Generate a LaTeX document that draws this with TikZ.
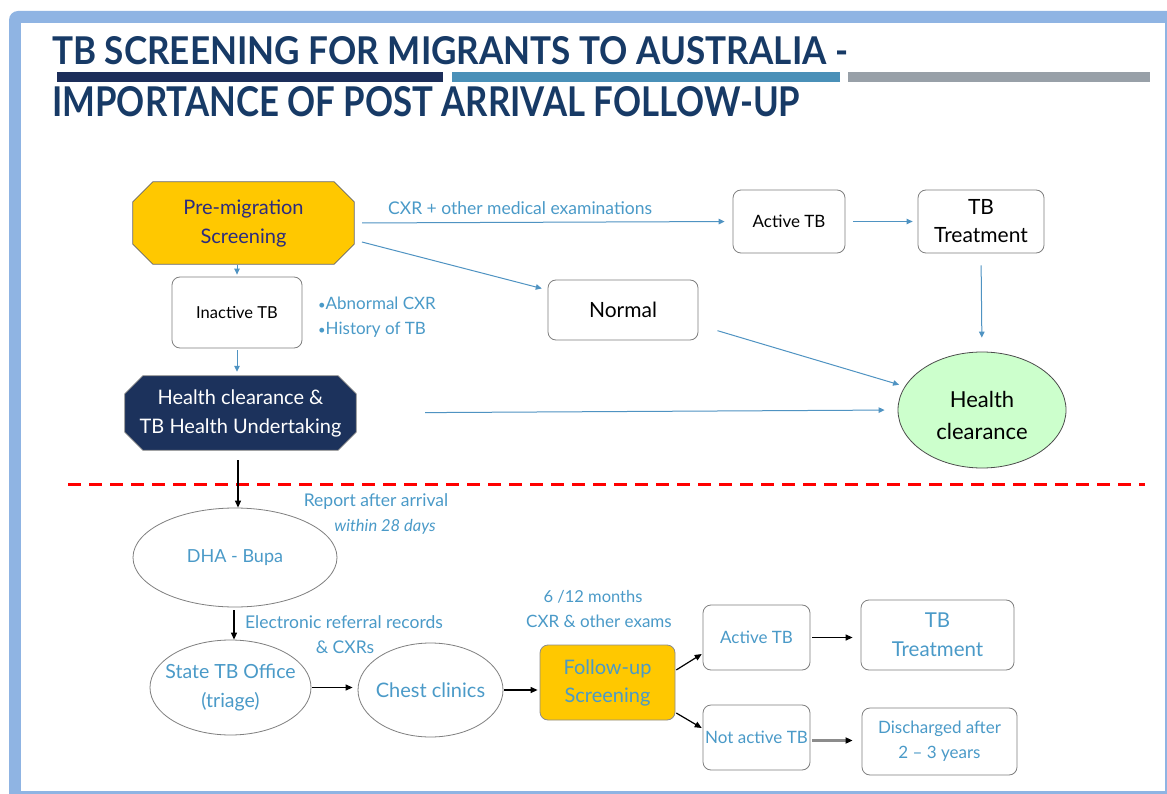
\documentclass[tikz,border=0pt]{standalone}
\usepackage{fontspec}
\setmainfont{Lato}
\usetikzlibrary{arrows.meta,shapes.geometric,backgrounds,calc}
\definecolor{frameblue}{HTML}{8FB4E3}
\definecolor{titlenavy}{HTML}{173A66}
\definecolor{barnavy}{HTML}{1C2E5A}
\definecolor{barblue}{HTML}{4A90B8}
\definecolor{bargray}{HTML}{98A0A8}
\definecolor{gold}{HTML}{FFC800}
\definecolor{arrowblue}{HTML}{4F93C2}
\definecolor{txtblue}{HTML}{4A9AC8}
\definecolor{navyfill}{HTML}{1C325C}
\definecolor{hcgreen}{HTML}{CCFFCC}
\definecolor{boxgray}{HTML}{7F7F7F}
\definecolor{premtxt}{HTML}{2B2B7F}
\newcommand{\fs}[1]{\fontsize{#1}{#1}\selectfont}
\newcommand{\octa}[4]{%
  \begin{scope}[on background layer]
  \filldraw[fill=#3,draw=#4,line width=0.8pt]
    ($(#1.north west)+(#2,0)$) -- ($(#1.north east)+(-#2,0)$) --
    ($(#1.north east)+(0,#2)$) -- ($(#1.south east)+(0,-#2)$) --
    ($(#1.south east)+(-#2,0)$) -- ($(#1.south west)+(#2,0)$) --
    ($(#1.south west)+(0,-#2)$) -- ($(#1.north west)+(0,#2)$) -- cycle;
  \end{scope}}
\tikzset{
  box/.style={draw=boxgray, rounded corners=8pt, fill=white, line width=0.8pt,
    align=center, inner sep=0pt},
  oval/.style={ellipse, draw=boxgray, fill=white, line width=0.8pt,
    align=center, inner sep=0pt},
  plain/.style={inner sep=0pt, align=center},
  barrow/.style={draw=arrowblue, line width=1pt, -{Triangle[length=6pt,width=5.5pt]}},
  karrow/.style={draw=black, line width=1.2pt, -{Triangle[length=7pt,width=6pt]}},
}
\begin{document}
\begin{tikzpicture}[x=1pt,y=-1pt]
\useasboundingbox (0,0) rectangle (1167,794);
\begin{scope}[on background layer]
\fill[white] (0,0) rectangle (1167,794);
\fill[frameblue] (9,794) [rounded corners=9pt] -- (9,11) [sharp corners] -- (1167,11) -- (1167,794) -- cycle;
\fill[white] (21,23) rectangle (1165,791);
\end{scope}

% title
\node[anchor=south west, inner sep=0pt] (title1) at (52,65)
  {\resizebox{796pt}{28pt}{\color{titlenavy}\bfseries TB SCREENING FOR MIGRANTS TO AUSTRALIA -}};
\node[anchor=south west, inner sep=0pt] (title2) at (52,117)
  {\resizebox{748pt}{30pt}{\color{titlenavy}\bfseries IMPORTANCE OF POST ARRIVAL FOLLOW-UP}};
\fill[barnavy] (57,72) rectangle (443,82);
\fill[barblue] (452,72) rectangle (840,82);
\fill[bargray] (848,72) rectangle (1150,82);

% top nodes
\node[plain, minimum width=221pt, minimum height=82pt, text=premtxt, font=\fs{20}, align=center]
  (pre) at (243.5,223) {Pre-migration\\[9pt]Screening};
\octa{pre}{20}{gold}{black!60}
\node[box, minimum width=130pt, minimum height=71pt, font=\fs{16.5}] (inactive) at (237,312.5) {Inactive TB};
\node[plain, minimum width=231pt, minimum height=74pt, text=white, font=\fs{20}]
  (hcu) at (240.5,413) {Health clearance \&\\[9pt]TB Health Undertaking};
\octa{hcu}{18}{navyfill}{black!50}
\node[box, minimum width=112pt, minimum height=63pt, font=\fs{17}] (active) at (789,221.5) {Active TB};
\node[box, minimum width=126pt, minimum height=63pt, font=\fs{21}] (treat) at (981,221.5) {TB\\[7pt]Treatment};
\node[box, minimum width=150pt, minimum height=60pt, font=\fs{21}] (normal) at (623,310) {Normal};
\node[oval, fill=hcgreen, draw=black!70, minimum width=168pt, minimum height=116pt] (hc) at (982,410) {};
\node[plain, font=\fs{22}] (hctext) at ($(hc.center)+(0,5)$) {Health\\[10pt]clearance};

% top labels
\node[plain, anchor=west, text=txtblue, font=\fs{17.5}] (lcxr) at (388,208) {CXR + other medical examinations};
\node[plain, anchor=west, align=left, text=txtblue, font=\fs{17}] (lbul) at (318,317.5)
  {{\fs{13}•}Abnormal CXR\\[8pt]{\fs{13}•}History of TB};

% top arrows
\draw[barrow, shorten <=8pt, shorten >=8pt] (pre.east) -- (active.west);
\draw[barrow, shorten <=8pt, shorten >=5pt] (active.east) -- (treat.west);
\draw[barrow, shorten <=12pt, shorten >=14pt] (treat.south) -- (hc.north);
\draw[barrow, shorten <=8pt, shorten >=6pt] ($(pre.east)+(0,17)$) -- ($(normal.west)+(0,-20)$);
\draw[barrow, shorten <=20pt, shorten >=6pt] ($(normal.east)+(0,15)$) -- (hc.163);
\draw[barrow, shorten <=69pt, shorten >=13pt] (hcu.east) -- (hc.west);
\draw[barrow, shorten <=1pt, shorten >=2pt] (pre.south -| inactive.north) -- (inactive.north);
\draw[barrow, shorten <=2pt, shorten >=4pt] (inactive.south) -- (inactive.south |- hcu.north);

% red dashed line
\coordinate (dl) at (68,484);
\coordinate (dr) at (1145,484);
\draw[red, line width=3pt, dash pattern=on 13pt off 8pt] (dl) -- (dr);

% bottom nodes
\node[oval, minimum width=204pt, minimum height=99pt, text=txtblue, font=\fs{18}] (dha) at (235,557.5) {DHA - Bupa};
\node[oval, minimum width=161pt, minimum height=95pt] (state) at (230.5,687.5) {};
\node[plain, text=txtblue, font=\fs{19.5}] (statetext) at (state.center) {State TB Office\\[10pt](triage)};
\node[oval, minimum width=145pt, minimum height=94pt] (chest) at (430.5,690) {};
\node[plain, text=txtblue, font=\fs{20}] (chesttext) at (chest.center) {Chest clinics};
\node[box, fill=gold, draw=black!45, minimum width=135pt, minimum height=75pt, text=txtblue, font=\fs{20}] (fus) at (607.5,682.5) {Follow-up\\[8pt]Screening};
\node[box, minimum width=107pt, minimum height=65pt, text=txtblue, font=\fs{17}] (active2) at (756.5,637.5) {Active TB};
\node[box, minimum width=107pt, minimum height=65pt, text=txtblue, font=\fs{17}] (notact) at (756.5,737.5) {Not active TB};
\node[box, minimum width=153pt, minimum height=70pt, text=txtblue, font=\fs{20.5}] (treat2) at (937.5,635) {TB\\[8.5pt]Treatment};
\node[box, minimum width=155pt, minimum height=67pt, text=txtblue, font=\fs{17}] (disch) at (939.5,741.5) {Discharged after\\[8pt]2 – 3 years};

% bottom labels
\node[plain, text=txtblue, font=\fs{17.5}] (lrep) at (376,502) {Report after arrival};
\node[plain, text=txtblue, font=\fs{16.5}\itshape] (l28) at (385,527) {within 28 days};
\node[plain, text=txtblue, font=\fs{17.5}] (lelec) at (344,622) {Electronic referral records};
\node[plain, text=txtblue, font=\fs{17.5}] (lcxrs) at (345,647) {\& CXRs};
\node[plain, text=txtblue, font=\fs{16.5}] (lmon) at (593,597) {6 /12 months};
\node[plain, text=txtblue, font=\fs{17}] (lexam) at (599,621) {CXR \& other exams};

% bottom arrows
\draw[karrow, shorten <=10pt] ([xshift=-2.5pt]hcu.south) -- ([xshift=3pt]dha.north);
\draw[karrow, shorten <=3pt] ([xshift=-1pt]dha.south) -- ([xshift=3.5pt]state.north);
\draw[karrow, shorten <=1pt, shorten >=5pt] (state.east) -- (state.east -| chest.west);
\draw[karrow, shorten <=1pt, shorten >=2pt] (chest.east) -- (chest.east -| fus.west);
\draw[karrow, shorten <=1pt, shorten >=1pt] ($(fus.east)+(0,-12)$) -- ($(active2.west)+(0,16)$);
\draw[karrow, shorten <=1pt, shorten >=1pt] ($(fus.east)+(0,30)$) -- ($(notact.west)+(0,-9)$);
\draw[karrow, shorten <=2pt, shorten >=8pt] (active2.east) -- (active2.east -| treat2.west);
\draw[draw=black!45, line width=2.2pt, -{Triangle[length=7pt,width=6pt,color=black]}, shorten <=2pt, shorten >=9pt]
  ($(notact.east)+(0,3)$) -- ($(notact.east -| disch.west)+(0,3)$);
\end{tikzpicture}
\end{document}
